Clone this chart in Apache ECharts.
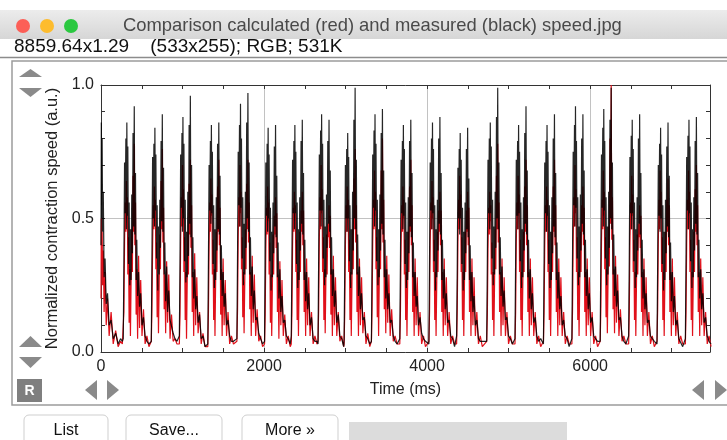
<!DOCTYPE html>
<html><head><meta charset="utf-8">
<script src="https://cdn.jsdelivr.net/npm/echarts@6/dist/echarts.min.js"></script>
<style>html,body{margin:0;padding:0;background:#fff;}#c{width:727px;height:440px;}</style>
</head><body><div id="c"></div>
<script>
// ---- data ----
const xTickLabels = ['0', '2000', '4000', '6000'];
const yTickLabels = ['0.0', '0.5', '1.0'];
// first, partial contraction at the start of the recording (ms)
const startTimes = [0, 4, 8, 14, 20, 28, 38, 50, 64, 80, 100, 124, 150, 180, 210, 240, 262];
const startBlack = [0.40, 0.86, 0.55, 0.80, 0.45, 0.60, 0.28, 0.35, 0.18, 0.22, 0.10, 0.12, 0.05, 0.07, 0.03, 0.05, 0.04];
const startRed = [0.20, 0.50, 0.35, 0.45, 0.25, 0.38, 0.15, 0.30, 0.10, 0.20, 0.06, 0.15, 0.03, 0.08, 0.02, 0.04, 0.03];
// onset of each following contraction (ms)
const beatOnsets = [273, 617, 961, 1310, 1667, 2006, 2334, 2662, 2982, 3317, 3665, 4022, 4362, 4731, 5078, 5427, 5776, 6123, 6472, 6820, 7168];
// sample times inside a contraction, relative to its onset (ms)
const beatOffsets = [0, 8, 16, 24, 32, 38, 44, 50, 56, 64, 72, 80, 88, 96, 104, 112, 120, 128, 135, 142, 150, 158, 166, 176, 188, 200, 214, 230, 248, 268, 290, 315];
// measured speed (black), one row per contraction
const blackBeats = [
 [0.05,0.34,0.71,0.52,0.80,0.46,0.86,0.51,0.77,0.33,0.56,0.25,0.46,0.27,0.59,0.37,0.82,0.47,0.92,0.44,0.67,0.27,0.42,0.21,0.30,0.17,0.22,0.10,0.13,0.06,0.04,0.03],
 [0.04,0.36,0.73,0.50,0.78,0.47,0.84,0.53,0.74,0.35,0.55,0.23,0.47,0.29,0.57,0.39,0.79,0.49,0.89,0.45,0.69,0.29,0.41,0.19,0.32,0.15,0.23,0.12,0.12,0.07,0.05,0.04],
 [0.06,0.33,0.74,0.54,0.82,0.45,0.88,0.50,0.78,0.34,0.57,0.26,0.45,0.28,0.60,0.36,0.85,0.48,0.96,0.43,0.70,0.28,0.43,0.20,0.31,0.16,0.21,0.11,0.14,0.05,0.06,0.02],
 [0.03,0.35,0.70,0.53,0.79,0.48,0.85,0.52,0.75,0.33,0.55,0.24,0.46,0.27,0.58,0.38,0.78,0.46,0.86,0.44,0.66,0.27,0.40,0.21,0.30,0.17,0.22,0.10,0.12,0.06,0.04,0.04],
 [0.05,0.37,0.75,0.55,0.85,0.47,0.93,0.54,0.80,0.35,0.58,0.25,0.48,0.29,0.60,0.39,0.86,0.50,0.97,0.45,0.71,0.29,0.43,0.21,0.32,0.16,0.23,0.12,0.13,0.07,0.05,0.03],
 [0.04,0.33,0.71,0.51,0.78,0.45,0.84,0.50,0.74,0.34,0.54,0.23,0.45,0.28,0.56,0.37,0.77,0.47,0.85,0.43,0.66,0.28,0.41,0.20,0.31,0.15,0.21,0.11,0.12,0.06,0.05,0.03],
 [0.06,0.35,0.72,0.52,0.79,0.46,0.85,0.52,0.75,0.33,0.56,0.24,0.46,0.27,0.58,0.38,0.79,0.48,0.87,0.44,0.67,0.27,0.42,0.19,0.30,0.16,0.22,0.10,0.13,0.05,0.04,0.04],
 [0.03,0.36,0.74,0.53,0.83,0.47,0.89,0.53,0.78,0.35,0.57,0.25,0.47,0.28,0.59,0.39,0.79,0.48,0.87,0.45,0.68,0.29,0.43,0.21,0.31,0.17,0.23,0.11,0.14,0.06,0.05,0.02],
 [0.05,0.32,0.70,0.50,0.76,0.45,0.82,0.50,0.73,0.34,0.55,0.24,0.46,0.29,0.60,0.38,0.87,0.50,0.99,0.46,0.72,0.29,0.44,0.21,0.32,0.16,0.22,0.12,0.13,0.06,0.05,0.03],
 [0.04,0.36,0.74,0.54,0.83,0.47,0.89,0.53,0.78,0.34,0.57,0.25,0.46,0.28,0.59,0.38,0.82,0.48,0.91,0.44,0.68,0.28,0.42,0.20,0.31,0.16,0.22,0.11,0.12,0.06,0.04,0.03],
 [0.05,0.34,0.72,0.52,0.79,0.46,0.85,0.51,0.76,0.33,0.56,0.24,0.45,0.27,0.58,0.37,0.79,0.47,0.87,0.43,0.67,0.28,0.41,0.21,0.30,0.17,0.21,0.10,0.13,0.07,0.05,0.04],
 [0.03,0.35,0.71,0.53,0.80,0.46,0.86,0.52,0.76,0.34,0.55,0.23,0.46,0.28,0.57,0.38,0.80,0.48,0.88,0.44,0.67,0.27,0.42,0.20,0.31,0.16,0.22,0.11,0.12,0.06,0.05,0.02],
 [0.06,0.32,0.69,0.50,0.76,0.44,0.82,0.50,0.72,0.33,0.54,0.23,0.45,0.27,0.56,0.37,0.76,0.46,0.84,0.43,0.65,0.27,0.40,0.19,0.30,0.15,0.21,0.10,0.12,0.05,0.04,0.04],
 [0.04,0.34,0.72,0.52,0.80,0.46,0.86,0.52,0.77,0.35,0.57,0.25,0.47,0.29,0.60,0.39,0.88,0.50,0.99,0.46,0.71,0.29,0.43,0.21,0.32,0.17,0.23,0.12,0.13,0.06,0.05,0.03],
 [0.05,0.35,0.72,0.51,0.79,0.46,0.85,0.52,0.75,0.34,0.56,0.24,0.46,0.28,0.58,0.38,0.82,0.48,0.92,0.44,0.68,0.28,0.42,0.20,0.31,0.16,0.22,0.11,0.13,0.06,0.04,0.05],
 [0.03,0.34,0.71,0.52,0.79,0.45,0.85,0.51,0.75,0.33,0.55,0.24,0.45,0.27,0.58,0.37,0.80,0.47,0.89,0.43,0.67,0.27,0.41,0.20,0.30,0.16,0.21,0.10,0.12,0.06,0.05,0.02],
 [0.05,0.37,0.75,0.55,0.85,0.47,0.92,0.54,0.79,0.35,0.58,0.25,0.47,0.28,0.59,0.38,0.80,0.48,0.89,0.44,0.68,0.28,0.42,0.21,0.31,0.16,0.22,0.11,0.13,0.06,0.05,0.04],
 [0.04,0.36,0.74,0.54,0.84,0.47,0.91,0.53,0.79,0.35,0.58,0.25,0.47,0.29,0.60,0.39,0.87,0.50,0.99,0.46,0.71,0.29,0.44,0.21,0.32,0.17,0.23,0.12,0.13,0.06,0.04,0.03],
 [0.06,0.35,0.73,0.52,0.81,0.46,0.87,0.52,0.76,0.34,0.56,0.24,0.46,0.28,0.58,0.38,0.80,0.48,0.89,0.44,0.67,0.28,0.42,0.20,0.31,0.16,0.22,0.11,0.12,0.06,0.05,0.04],
 [0.03,0.33,0.70,0.51,0.78,0.45,0.84,0.50,0.74,0.33,0.55,0.23,0.45,0.27,0.57,0.37,0.77,0.47,0.86,0.43,0.66,0.27,0.41,0.19,0.30,0.15,0.21,0.10,0.12,0.05,0.05,0.02],
 [0.05,0.35,0.73,0.53,0.81,0.46,0.87,0.52,0.77,0.34,0.56,0.24,0.46,0.28,0.58,0.38,0.79,0.48,0.88,0.44,0.67,0.28,0.42,0.20,0.31,0.16,0.22,0.11,0.13,0.06,0.04,0.03]
];
// calculated speed (red), one row per contraction
const redBeats = [
 [0.03,0.15,0.41,0.56,0.45,0.64,0.50,0.58,0.29,0.43,0.11,0.31,0.06,0.26,0.46,0.30,0.66,0.45,0.78,0.40,0.56,0.14,0.31,0.05,0.36,0.09,0.27,0.06,0.16,0.03,0.06,0.02],
 [0.04,0.16,0.39,0.55,0.46,0.62,0.49,0.57,0.31,0.41,0.13,0.29,0.07,0.24,0.44,0.31,0.64,0.46,0.76,0.41,0.54,0.16,0.29,0.07,0.34,0.11,0.29,0.05,0.14,0.04,0.05,0.03],
 [0.03,0.14,0.42,0.58,0.47,0.70,0.52,0.61,0.30,0.43,0.12,0.30,0.05,0.25,0.45,0.29,0.63,0.44,0.72,0.39,0.55,0.15,0.30,0.06,0.37,0.10,0.28,0.07,0.15,0.03,0.07,0.02],
 [0.02,0.15,0.40,0.56,0.45,0.65,0.51,0.59,0.29,0.42,0.12,0.31,0.06,0.26,0.45,0.30,0.62,0.45,0.72,0.40,0.54,0.14,0.31,0.06,0.35,0.10,0.27,0.06,0.15,0.03,0.06,0.03],
 [0.04,0.16,0.43,0.58,0.47,0.70,0.52,0.60,0.31,0.43,0.13,0.30,0.07,0.25,0.46,0.31,0.63,0.46,0.72,0.41,0.56,0.16,0.30,0.06,0.36,0.11,0.29,0.06,0.16,0.04,0.06,0.02],
 [0.03,0.14,0.39,0.54,0.44,0.62,0.49,0.56,0.29,0.41,0.11,0.29,0.06,0.24,0.44,0.29,0.51,0.44,0.58,0.39,0.52,0.15,0.29,0.05,0.34,0.10,0.27,0.06,0.14,0.03,0.06,0.02],
 [0.03,0.15,0.40,0.54,0.45,0.60,0.49,0.55,0.30,0.42,0.12,0.30,0.06,0.25,0.45,0.30,0.53,0.45,0.60,0.40,0.53,0.15,0.30,0.06,0.35,0.10,0.28,0.06,0.15,0.03,0.06,0.03],
 [0.04,0.16,0.42,0.58,0.46,0.70,0.52,0.61,0.30,0.43,0.12,0.31,0.07,0.26,0.44,0.29,0.48,0.43,0.55,0.39,0.51,0.14,0.31,0.06,0.36,0.10,0.28,0.06,0.15,0.04,0.06,0.02],
 [0.03,0.15,0.40,0.55,0.45,0.62,0.50,0.57,0.30,0.42,0.12,0.30,0.06,0.25,0.46,0.31,0.65,0.46,0.76,0.41,0.55,0.15,0.30,0.06,0.35,0.10,0.28,0.07,0.15,0.03,0.07,0.02],
 [0.04,0.16,0.41,0.57,0.46,0.68,0.51,0.60,0.31,0.43,0.13,0.31,0.06,0.26,0.46,0.31,0.68,0.46,0.80,0.41,0.57,0.16,0.31,0.07,0.36,0.11,0.29,0.06,0.16,0.04,0.06,0.03],
 [0.03,0.15,0.40,0.55,0.45,0.62,0.50,0.57,0.29,0.42,0.12,0.30,0.06,0.25,0.45,0.30,0.62,0.45,0.72,0.40,0.55,0.15,0.30,0.06,0.35,0.10,0.28,0.06,0.15,0.03,0.06,0.02],
 [0.04,0.15,0.41,0.56,0.46,0.64,0.50,0.58,0.30,0.42,0.12,0.30,0.06,0.25,0.45,0.30,0.53,0.45,0.60,0.40,0.53,0.15,0.30,0.06,0.35,0.10,0.28,0.06,0.15,0.03,0.06,0.03],
 [0.03,0.16,0.41,0.57,0.46,0.66,0.51,0.59,0.30,0.43,0.12,0.30,0.06,0.25,0.45,0.30,0.53,0.45,0.60,0.40,0.54,0.15,0.30,0.06,0.35,0.10,0.28,0.06,0.15,0.03,0.06,0.02],
 [0.04,0.14,0.39,0.54,0.44,0.60,0.49,0.55,0.29,0.41,0.12,0.30,0.06,0.25,0.46,0.31,0.66,0.46,0.78,0.41,0.56,0.15,0.30,0.06,0.35,0.10,0.28,0.06,0.15,0.03,0.06,0.03],
 [0.03,0.15,0.41,0.56,0.46,0.66,0.51,0.59,0.30,0.42,0.12,0.30,0.06,0.25,0.45,0.30,0.62,0.45,0.72,0.40,0.55,0.15,0.30,0.06,0.35,0.10,0.28,0.06,0.15,0.03,0.06,0.02],
 [0.04,0.15,0.40,0.55,0.45,0.62,0.50,0.57,0.30,0.42,0.12,0.30,0.06,0.25,0.45,0.30,0.62,0.45,0.72,0.40,0.55,0.15,0.30,0.06,0.35,0.10,0.28,0.06,0.15,0.03,0.06,0.03],
 [0.03,0.16,0.42,0.58,0.47,0.70,0.52,0.61,0.30,0.43,0.12,0.30,0.06,0.25,0.45,0.30,0.55,0.45,0.62,0.40,0.54,0.15,0.30,0.06,0.35,0.10,0.28,0.06,0.15,0.03,0.06,0.02],
 [0.04,0.16,0.41,0.57,0.46,0.68,0.51,0.60,0.31,0.43,0.13,0.31,0.07,0.26,0.47,0.32,0.80,0.48,1.00,0.42,0.58,0.16,0.31,0.07,0.36,0.11,0.29,0.06,0.16,0.04,0.06,0.03],
 [0.03,0.15,0.41,0.56,0.46,0.66,0.51,0.59,0.30,0.42,0.12,0.30,0.06,0.25,0.44,0.29,0.48,0.43,0.55,0.39,0.51,0.15,0.30,0.06,0.35,0.10,0.28,0.06,0.15,0.03,0.06,0.02],
 [0.04,0.16,0.41,0.57,0.46,0.68,0.51,0.60,0.30,0.43,0.12,0.30,0.06,0.25,0.45,0.30,0.57,0.45,0.65,0.40,0.55,0.15,0.30,0.06,0.35,0.10,0.28,0.06,0.15,0.03,0.06,0.03],
 [0.03,0.15,0.41,0.57,0.46,0.68,0.51,0.60,0.30,0.42,0.12,0.30,0.06,0.25,0.45,0.30,0.61,0.45,0.70,0.40,0.55,0.15,0.30,0.06,0.35,0.10,0.28,0.06,0.15,0.03,0.06,0.02]
];

// ---- build [time, value] tables ----
function buildSeries(st, sv, beats) {
  const d = [];
  st.forEach((t, i) => d.push([t, sv[i]]));
  beatOnsets.forEach((on, b) => {
    beatOffsets.forEach((off, k) => {
      if (beats[b] && beats[b][k] !== undefined) d.push([on + off, beats[b][k]]);
    });
  });
  return d;
}
const blackData = buildSeries(startTimes, startBlack, blackBeats);
const redData = buildSeries(startTimes, startRed, redBeats);

const FONT = 'Liberation Sans';
const AX = '#333';
const xMax = 7470;

const chart = echarts.init(document.getElementById('c'), null, {renderer: 'canvas', width: 727, height: 440});

const tickCommon = {show: true, inside: true, length: 4, lineStyle: {color: AX, width: 1}};
const grey = '#8a8a8a';

const option = {
  animation: false,
  backgroundColor: '#fff',
  grid: {left: 101, right: 17, top: 85, bottom: 88, containLabel: false},
  xAxis: [
    {
      type: 'value', position: 'bottom', min: 0, max: xMax, interval: 500,
      axisLine: {show: true, onZero: false, lineStyle: {color: AX, width: 1}},
      axisTick: tickCommon,
      axisLabel: {
        show: true, fontSize: 16, fontFamily: FONT, color: '#222', margin: 7,
        formatter: v => (v % 2000 === 0 && xTickLabels[v / 2000] !== undefined) ? xTickLabels[v / 2000] : ''
      },
      splitLine: {show: false},
      name: 'Time (ms)', nameLocation: 'middle', nameGap: 30,
      nameTextStyle: {fontSize: 16, fontFamily: FONT, color: '#222'}
    },
    {
      type: 'value', position: 'top', min: 0, max: xMax, interval: 500,
      axisLine: {show: true, onZero: false, lineStyle: {color: AX, width: 1}},
      axisTick: tickCommon, axisLabel: {show: false}, splitLine: {show: false}
    },
    {
      type: 'value', position: 'bottom', min: 0, max: xMax, interval: 2000,
      axisLine: {show: false}, axisTick: {show: false}, axisLabel: {show: false},
      splitLine: {show: true, lineStyle: {color: '#c2c2c2', width: 1}}
    }
  ],
  yAxis: [
    {
      type: 'value', position: 'left', min: 0, max: 1, interval: 0.1,
      axisLine: {show: true, onZero: false, lineStyle: {color: AX, width: 1}},
      axisTick: tickCommon,
      axisLabel: {
        show: true, fontSize: 16, fontFamily: FONT, color: '#222', margin: 7,
        formatter: v => { const k = Math.round(v * 10); return k % 5 === 0 ? yTickLabels[k / 5] : ''; }
      },
      splitLine: {show: false},
      name: 'Normalized contraction speed (a.u.)', nameLocation: 'middle', nameGap: 28,
      nameTextStyle: {fontSize: 16.5, fontFamily: FONT, color: '#222'}
    },
    {
      type: 'value', position: 'right', min: 0, max: 1, interval: 0.1,
      axisLine: {show: true, onZero: false, lineStyle: {color: AX, width: 1}},
      axisTick: tickCommon, axisLabel: {show: false}, splitLine: {show: false}
    },
    {
      type: 'value', position: 'left', min: 0, max: 1, interval: 0.5,
      axisLine: {show: false}, axisTick: {show: false}, axisLabel: {show: false},
      splitLine: {show: true, lineStyle: {color: '#c2c2c2', width: 1}}
    }
  ],
  series: [
    {
      name: 'calculated', type: 'line', xAxisIndex: 0, yAxisIndex: 0, data: redData,
      showSymbol: false, symbol: 'none', lineStyle: {color: '#e0101a', width: 1.2}, z: 3, clip: true
    },
    {
      name: 'measured', type: 'line', xAxisIndex: 0, yAxisIndex: 0, data: blackData,
      showSymbol: false, symbol: 'none', lineStyle: {color: '#000', width: 1.2, opacity: 0.85}, z: 4, clip: true
    }
  ],
  graphic: [
    // window title bar
    {type: 'rect', z: 50, shape: {x: 0, y: 10, width: 727, height: 29},
     style: {fill: {type: 'linear', x: 0, y: 0, x2: 0, y2: 1, colorStops: [{offset: 0, color: '#ececec'}, {offset: 1, color: '#d6d6d6'}]}}},
    {type: 'circle', z: 51, shape: {cx: 23, cy: 26, r: 7}, style: {fill: '#fc5f57'}},
    {type: 'circle', z: 51, shape: {cx: 47, cy: 26, r: 7}, style: {fill: '#fdbc2e'}},
    {type: 'circle', z: 51, shape: {cx: 71, cy: 26, r: 7}, style: {fill: '#2bc840'}},
    {type: 'text', z: 51, style: {text: 'Comparison calculated (red) and measured (black) speed.jpg', x: 123, y: 26,
      font: '18.4px "Liberation Sans"', fill: '#4a4a4a', textAlign: 'left', textVerticalAlign: 'middle'}},
    {type: 'text', z: 51, style: {text: '8859.64x1.29    (533x255); RGB; 531K', x: 14, y: 47,
      font: '19px "Liberation Sans"', fill: '#111', textAlign: 'left', textVerticalAlign: 'middle'}},
    {type: 'line', z: 51, shape: {x1: 0, y1: 57.5, x2: 727, y2: 57.5}, style: {stroke: '#8c8c8c', lineWidth: 1.5}},
    // plot panel frame
    {type: 'rect', z: 1, shape: {x: 12, y: 61, width: 740, height: 344}, style: {fill: 'transparent', stroke: '#9c9c9c', lineWidth: 1.5}},
    // arrows
    {type: 'polygon', z: 51, shape: {points: [[19, 77], [30.5, 69], [42, 77]]}, style: {fill: grey}},
    {type: 'polygon', z: 51, shape: {points: [[19, 88], [30.5, 97], [42, 88]]}, style: {fill: grey}},
    {type: 'polygon', z: 51, shape: {points: [[19, 347], [30.5, 336], [42, 347]]}, style: {fill: grey}},
    {type: 'polygon', z: 51, shape: {points: [[19, 357], [30.5, 368], [42, 357]]}, style: {fill: grey}},
    {type: 'rect', z: 51, shape: {x: 17, y: 379, width: 25, height: 23}, style: {fill: '#7f7f7f'}},
    {type: 'text', z: 52, style: {text: 'R', x: 29.5, y: 391, font: 'bold 14px "Liberation Sans"', fill: '#fff', textAlign: 'center', textVerticalAlign: 'middle'}},
    {type: 'polygon', z: 51, shape: {points: [[97, 380], [85, 390], [97, 400]]}, style: {fill: grey}},
    {type: 'polygon', z: 51, shape: {points: [[107, 380], [119, 390], [107, 400]]}, style: {fill: grey}},
    {type: 'polygon', z: 51, shape: {points: [[704, 380], [692, 390], [704, 400]]}, style: {fill: grey}},
    {type: 'polygon', z: 51, shape: {points: [[715, 380], [727, 390], [715, 400]]}, style: {fill: grey}},
    // buttons
    {type: 'rect', z: 51, shape: {x: 24, y: 415, width: 84, height: 40, r: 5}, style: {fill: '#fff', stroke: '#cfcfcf', lineWidth: 1}},
    {type: 'text', z: 52, style: {text: 'List', x: 66, y: 431, font: '16px "Liberation Sans"', fill: '#111', textAlign: 'center', textVerticalAlign: 'middle'}},
    {type: 'rect', z: 51, shape: {x: 126, y: 415, width: 96, height: 40, r: 5}, style: {fill: '#fff', stroke: '#cfcfcf', lineWidth: 1}},
    {type: 'text', z: 52, style: {text: 'Save...', x: 174, y: 431, font: '16px "Liberation Sans"', fill: '#111', textAlign: 'center', textVerticalAlign: 'middle'}},
    {type: 'rect', z: 51, shape: {x: 242, y: 415, width: 96, height: 40, r: 5}, style: {fill: '#fff', stroke: '#cfcfcf', lineWidth: 1}},
    {type: 'text', z: 52, style: {text: 'More »', x: 290, y: 431, font: '16px "Liberation Sans"', fill: '#111', textAlign: 'center', textVerticalAlign: 'middle'}},
    {type: 'rect', z: 51, shape: {x: 349, y: 422, width: 218, height: 25}, style: {fill: '#dcdcdc'}}
  ]
};
chart.setOption(option);
</script>
</body></html>
